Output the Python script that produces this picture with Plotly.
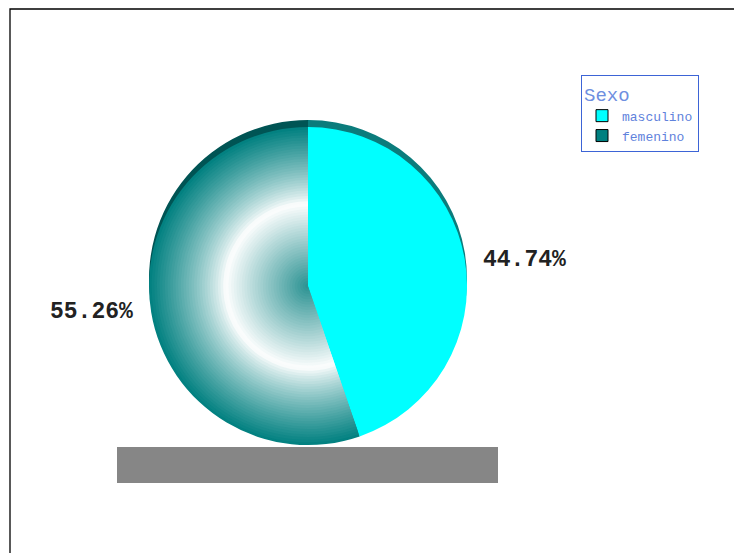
import plotly.graph_objects as go
import numpy as np

# ---- data ----
labels = ["masculino", "femenino"]
values = [17, 21]
legend_title = "Sexo"
slice_colors = ["#00ffff", "#008080"]
rim_colors = ["#0b7c7c", "#005454"]

W, H = 742, 553
OFF = 8  # page body margin
cx, cy, R = 308, 286, 159
rim_shift = 7
FONT = "Liberation Mono, Courier New, monospace"


def px(x):
    return (x - OFF) / W


def py(y):
    return 1 - (y - OFF) / H


def dom(x, y, r):
    return dict(x=[px(x - r), px(x + r)], y=[py(y + r), py(y - r)])


def grad(t):
    c0 = np.array([0x2a, 0x92, 0x92], float)
    cw = np.array([255, 255, 255], float)
    c1 = np.array([0x00, 0x80, 0x80], float)
    if t < 0.52:
        c = c0 + (cw - c0) * (t / 0.52)
    else:
        s = (t - 0.52) / 0.48
        c = cw + (c1 - cw) * (s ** 0.8)
    c = np.clip(c, 0, 255).astype(int)
    return "rgb(%d,%d,%d)" % tuple(c)


common = dict(labels=labels, values=values, sort=False, direction="clockwise",
              rotation=0, textinfo="none", hoverinfo="skip")

fig = go.Figure()

# legend-only small pie (hidden behind the main pie)
fig.add_trace(go.Pie(**common, domain=dom(cx, cy, 4), showlegend=True,
                     marker=dict(colors=slice_colors, line=dict(color="black", width=1))))

# rim (3D top edge)
fig.add_trace(go.Pie(**common, domain=dom(cx, cy - rim_shift, R), showlegend=False,
                     marker=dict(colors=rim_colors, line=dict(width=0))))

# gradient disks, largest first
N = 60
for k in range(N):
    r = R * (N - k) / N
    t = (N - k - 0.5) / N
    fig.add_trace(go.Pie(**common, domain=dom(cx, cy, r), showlegend=False,
                         marker=dict(colors=[slice_colors[0], grad(t)], line=dict(width=0))))

# percentage labels placed at slice mid-angles
total = sum(values)
cum = 0
annotations = []
for v in values:
    mid = (cum + v / 2) / total * 2 * np.pi
    cum += v
    sx, sy = np.sin(mid), np.cos(mid)
    gap = 16
    lx = cx + (R + gap) * sx
    ly = cy - R * sy
    annotations.append(dict(
        x=px(lx), y=py(ly), xref="paper", yref="paper",
        text="<b>%.2f%%</b>" % (v / total * 100), showarrow=False,
        xanchor="left" if sx > 0 else "right", yanchor="middle",
        font=dict(family=FONT, size=23, color="#222222")))

fig.update_layout(
    width=W, height=H,
    margin=dict(l=0, r=0, t=0, b=0),
    paper_bgcolor="white", plot_bgcolor="white",
    annotations=annotations,
    legend=dict(
        x=px(581), y=py(75), xanchor="left", yanchor="top",
        bordercolor="#3d64d6", borderwidth=1, bgcolor="white",
        font=dict(family=FONT, size=13, color="#5f82dc"),
        title=dict(text=legend_title, font=dict(family=FONT, size=19, color="#6f8fe0")),
        itemwidth=30, tracegroupgap=2,
    ),
    shapes=[
        dict(type="rect", xref="paper", yref="paper",
             x0=px(117), x1=px(498), y0=py(483), y1=py(447),
             fillcolor="#868686", line=dict(width=0), layer="below"),
        dict(type="rect", xref="paper", yref="paper",
             x0=px(10), x1=1.2, y0=-0.2, y1=1 - 1 / H,
             fillcolor="rgba(0,0,0,0)", line=dict(color="black", width=1.3)),
    ],
)

fig.write_html("out.html")
